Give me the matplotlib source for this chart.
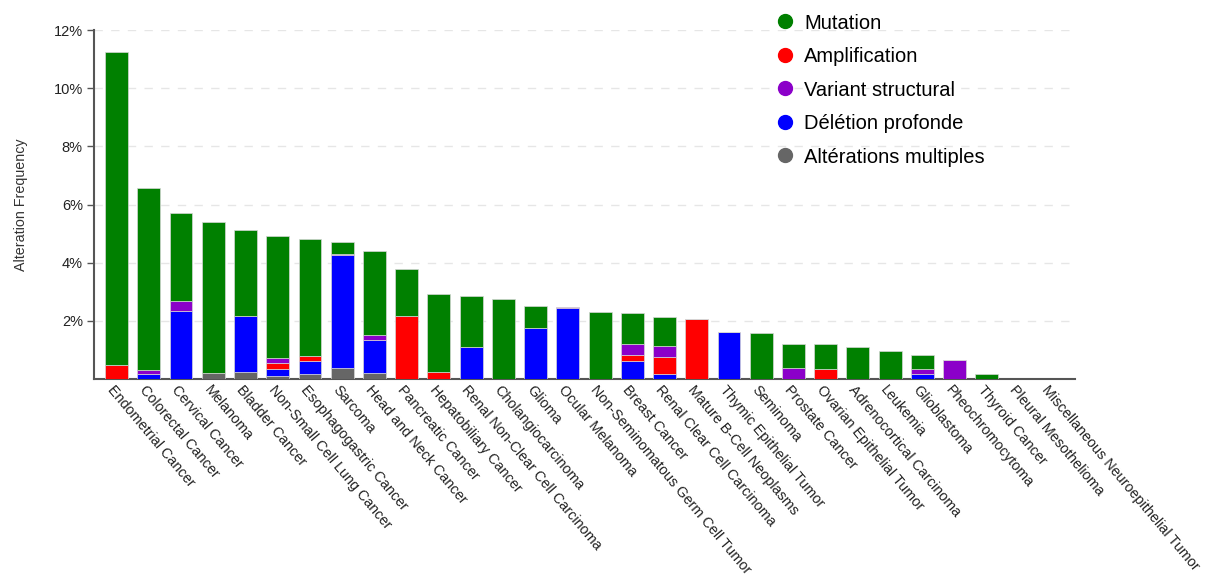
import numpy as np
import matplotlib
matplotlib.use("Agg")
import matplotlib.pyplot as plt
from matplotlib.lines import Line2D

plt.rcParams['font.family'] = ['Liberation Sans', 'DejaVu Sans']

# cancer types, sorted by total alteration frequency (%)
cancer_types = [
    "Endometrial Cancer", "Colorectal Cancer", "Cervical Cancer", "Melanoma",
    "Bladder Cancer", "Non-Small Cell Lung Cancer", "Esophagogastric Cancer",
    "Sarcoma", "Head and Neck Cancer", "Pancreatic Cancer", "Hepatobiliary Cancer",
    "Renal Non-Clear Cell Carcinoma", "Cholangiocarcinoma", "Glioma",
    "Ocular Melanoma", "Non-Seminomatous Germ Cell Tumor", "Breast Cancer",
    "Renal Clear Cell Carcinoma", "Mature B-Cell Neoplasms",
    "Thymic Epithelial Tumor", "Seminoma", "Prostate Cancer",
    "Ovarian Epithelial Tumor", "Adrenocortical Carcinoma", "Leukemia",
    "Glioblastoma", "Pheochromocytoma", "Thyroid Cancer", "Pleural Mesothelioma",
    "Miscellaneous Neuroepithelial Tumor",
]

# stacked segments, bottom to top: multiple, deletion, amplification, structural, mutation
multiple = [0, 0, 0, 0.21, 0.25, 0.09, 0.17, 0.39, 0.21, 0,
            0, 0, 0, 0, 0, 0, 0, 0, 0, 0,
            0, 0, 0, 0, 0, 0, 0, 0, 0, 0]
deletion = [0, 0.18, 2.35, 0, 1.93, 0.27, 0.45, 3.88, 1.12, 0,
            0, 1.11, 0, 1.75, 2.45, 0, 0.61, 0.19, 0, 1.62,
            0, 0, 0, 0, 0, 0.17, 0, 0, 0, 0]
amplification = [0.49, 0, 0, 0, 0, 0.21, 0.18, 0, 0, 2.16,
                 0.25, 0, 0, 0, 0, 0, 0.21, 0.58, 2.08, 0,
                 0, 0, 0.33, 0, 0, 0, 0, 0, 0, 0]
structural = [0, 0.14, 0.32, 0, 0, 0.16, 0, 0.04, 0.18, 0,
              0, 0, 0, 0, 0.03, 0, 0.37, 0.37, 0, 0,
              0, 0.39, 0, 0, 0, 0.16, 0.67, 0, 0.02, 0.02]
mutation = [10.75, 6.24, 3.03, 5.20, 2.93, 4.20, 4.01, 0.40, 2.89, 1.64,
            2.68, 1.75, 2.76, 0.76, 0, 2.30, 1.09, 1.01, 0, 0,
            1.58, 0.83, 0.86, 1.09, 0.97, 0.49, 0, 0.18, 0, 0]

series = [
    ("Altérations multiples", multiple, "#666666"),
    ("Délétion profonde", deletion, "#0000ff"),
    ("Amplification", amplification, "#ff0000"),
    ("Variant structural", structural, "#8b00c9"),
    ("Mutation", mutation, "#008000"),
]
legend_order = ["Mutation", "Amplification", "Variant structural",
                "Délétion profonde", "Altérations multiples"]

fig = plt.figure(figsize=(12.11, 5.77), dpi=100)
ax = fig.add_axes([0.0776, 0.343, 0.810, 0.605])

x = np.arange(len(cancer_types))
bottom = np.zeros(len(x))
for name, vals, col in series:
    vals = np.array(vals, dtype=float)
    ax.bar(x, vals, width=0.71, bottom=bottom, color=col,
           edgecolor="#d6d6d6", linewidth=0.5, zorder=3)
    bottom += vals

ax.set_xlim(-0.70, len(x) - 0.27)
ax.set_ylim(0, 12)
ax.set_yticks(np.arange(2, 13, 2))
ax.set_yticklabels([f"{v}%" for v in range(2, 13, 2)], fontsize=10.5, color="#222222")
ax.yaxis.grid(True, linestyle=(0, (6, 6)), color="#e6e6e6", linewidth=1, zorder=0)
ax.set_axisbelow(True)

ax.set_xticks(x)
ax.set_xticklabels([])
ax.tick_params(axis="x", length=0)
ax.tick_params(axis="y", length=5, width=1, color="#555555", pad=3)
for i, lab in enumerate(cancer_types):
    ax.annotate(lab, xy=(i, 0), xytext=(-1, -3), textcoords="offset points",
                rotation=-50, rotation_mode="anchor", ha="left", va="top",
                fontsize=10.4, color="#222222", annotation_clip=False)

for s in ["top", "right"]:
    ax.spines[s].set_visible(False)
for s in ["left", "bottom"]:
    ax.spines[s].set_color("#555555")
    ax.spines[s].set_linewidth(1.5)

ax.set_ylabel("Alteration Frequency", fontsize=10.3, color="#333333")
ax.yaxis.set_label_coords(-0.067, 0.5)

# legend
colors = {name: col for name, _, col in series}
handles = [Line2D([], [], marker="o", linestyle="", markersize=10,
                  markerfacecolor=colors[n], markeredgecolor=colors[n])
           for n in legend_order]
fig.legend(handles, legend_order, loc="upper left",
           bbox_to_anchor=(0.625, 1.008), frameon=False, fontsize=14.5,
           handletextpad=0.45, labelspacing=0.72, handlelength=1.0)

fig.savefig("out.png", dpi=100, facecolor="white")
